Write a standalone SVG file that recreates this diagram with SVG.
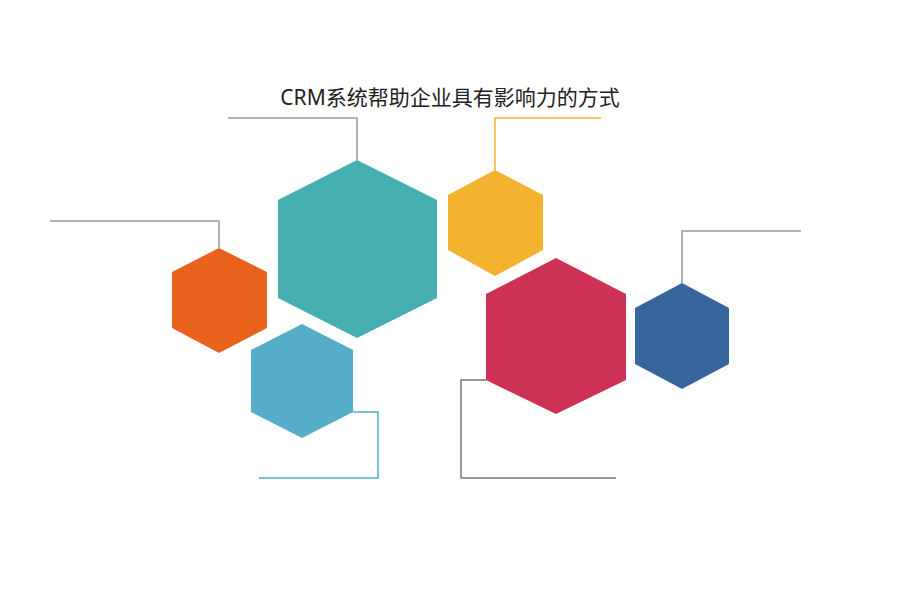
<svg xmlns="http://www.w3.org/2000/svg" width="900" height="600" viewBox="0 0 900 600">
<style>
.t{font-family:"Noto Sans","Noto Sans CJK SC",sans-serif;font-size:21px;fill:#222}
.c{fill:none;stroke-width:1.5}
</style>
<rect width="900" height="600" fill="#fff"/>
<text class="t" x="450" y="105" text-anchor="middle">CRM系统帮助企业具有影响力的方式</text>
<g id="connectors">
<polyline class="c" stroke="#999" points="228,118 357,118 357,160"/>
<polyline class="c" stroke="#F3B32F" points="601,118 495,118 495,170"/>
<polyline class="c" stroke="#999" points="50,221 219,221 219,248"/>
<polyline class="c" stroke="#999" points="801,231 682,231 682,283"/>
<polyline class="c" stroke="#55ADC9" points="353,412 378,412 378,478 259,478"/>
<polyline class="c" stroke="#777" points="486,380 461,380 461,478 616,478"/>
</g>
<g id="teal"><polygon fill="#46AFAF" points="357,160 437,200 437,298 357,338 278,298 278,200"/></g>
<g id="yellow"><polygon fill="#F3B32F" points="495,170 543,195 543,250 495,276 448,250 448,195"/></g>
<g id="orange"><polygon fill="#E9631D" points="219,248 267,272 267,328 219,353 172,328 172,272"/></g>
<g id="lightblue"><polygon fill="#55ADC9" points="302,324 353,350 353,412 302,438 251,412 251,350"/></g>
<g id="red"><polygon fill="#CD3254" points="556,258 626,294 626,380 556,414 486,380 486,294"/></g>
<g id="blue"><polygon fill="#37659E" points="682,283 729,308 729,364 682,389 635,364 635,308"/></g>
</svg>
